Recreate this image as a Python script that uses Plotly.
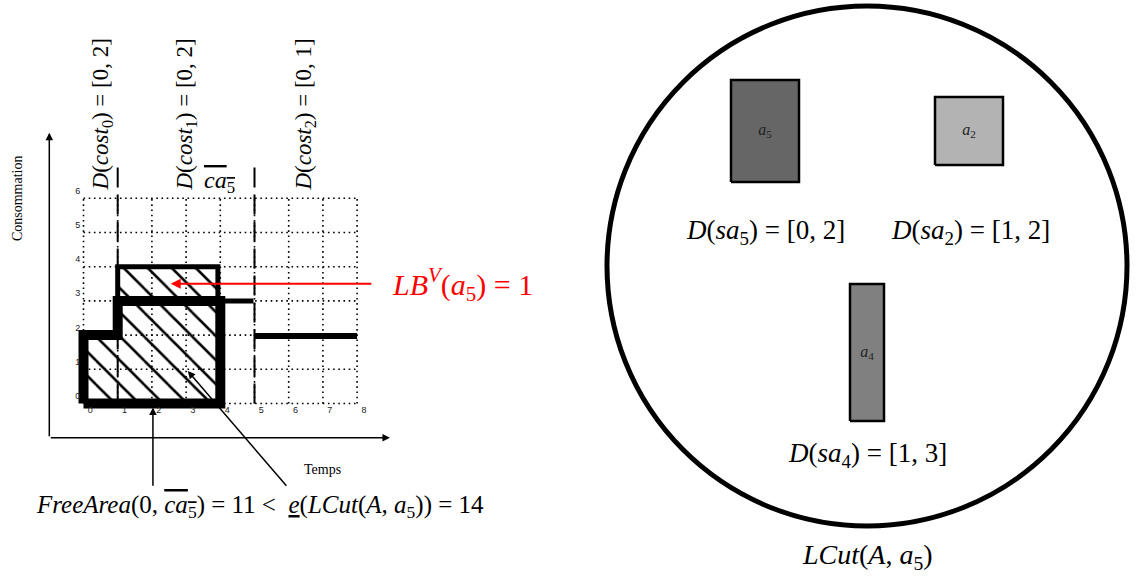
import plotly.graph_objects as go

# ---------------- left panel data (grid units: Temps x Consommation) ----------------
time_ticks = [0, 1, 2, 3, 4, 5, 6, 7, 8]
cons_ticks = [0, 1, 2, 3, 4, 5, 6]
tick_labels_x = [str(t) for t in time_ticks]
tick_labels_y = [str(c) for c in cons_ticks]

# resource profile (thick black outline) and its continuation
profile_x = [0, 0, 1, 1, 4, 4, 0]
profile_y = [0, 2, 2, 3, 3, 0, 0]
tail1_x = [4, 4.97]
tail1_y = [3, 3]
tail2_x = [5, 8]
tail2_y = [1.97, 1.97]

# hatched rectangle of ca5 above the profile
ca5_x = [1, 1, 3.93, 3.93, 1]
ca5_y = [3, 4, 4, 3, 3]

# dashed time cuts
cut_times = [1, 5]
cut_top = 7

EQ = "&nbsp;=&nbsp;"
cost_texts = ["<i>D</i>(<i>cost</i><sub>0</sub>)" + EQ + "[0, 2]",
              "<i>D</i>(<i>cost</i><sub>1</sub>)" + EQ + "[0, 2]",
              "<i>D</i>(<i>cost</i><sub>2</sub>)" + EQ + "[0, 1]"]

# ---------------- right panel data (pixel-like units around circle centre) ----------------
act_names = ["<i>a</i><sub>5</sub>", "<i>a</i><sub>2</sub>", "<i>a</i><sub>4</sub>"]
act_x0 = [-136, 68, -17]
act_x1 = [-68, 136, 17]
act_y0 = [84, 101, -155]
act_y1 = [186, 169, -18]
act_colors = ["#666666", "#b3b3b3", "#808080"]
dom_texts = ["<i>D</i>(<i>sa</i><sub>5</sub>)" + EQ + "[0, 2]",
             "<i>D</i>(<i>sa</i><sub>2</sub>)" + EQ + "[1, 2]",
             "<i>D</i>(<i>sa</i><sub>4</sub>)" + EQ + "[1, 3]"]

SERIF = "Liberation Serif"
SANS = "Liberation Sans"

fig = go.Figure()

# dotted grid
gx, gy = [], []
for t in time_ticks:
    gx += [t, t, None]
    gy += [cons_ticks[0], cons_ticks[-1], None]
for c in cons_ticks:
    gx += [time_ticks[0], time_ticks[-1], None]
    gy += [c, c, None]
fig.add_trace(go.Scatter(x=gx, y=gy, mode="lines",
                         line=dict(color="black", width=1.6, dash="1.6px,3.6px"),
                         hoverinfo="skip"))

hatch = dict(shape="\\", size=17, solidity=0.15, fgcolor="black",
             bgcolor="rgba(0,0,0,0)", fillmode="replace")

# hatched areas
fig.add_trace(go.Scatter(x=profile_x, y=profile_y, mode="lines", fill="toself",
                         fillcolor="rgba(0,0,0,0)", fillpattern=hatch,
                         line=dict(width=0), hoverinfo="skip"))
fig.add_trace(go.Scatter(x=ca5_x, y=ca5_y, mode="lines", fill="toself",
                         fillcolor="rgba(0,0,0,0)", fillpattern=hatch,
                         line=dict(width=0), hoverinfo="skip"))

# dashed cuts
for t in cut_times:
    fig.add_trace(go.Scatter(x=[t, t], y=[0, cut_top], mode="lines",
                             line=dict(color="black", width=2, dash="20px,7px"),
                             hoverinfo="skip"))

# outlines
fig.add_trace(go.Scatter(x=ca5_x, y=ca5_y, mode="lines",
                         line=dict(color="black", width=5), hoverinfo="skip"))
fig.add_trace(go.Scatter(x=profile_x, y=profile_y, mode="lines",
                         line=dict(color="black", width=10), hoverinfo="skip"))
fig.add_trace(go.Scatter(x=tail1_x, y=tail1_y, mode="lines",
                         line=dict(color="black", width=5), hoverinfo="skip"))
fig.add_trace(go.Scatter(x=tail2_x, y=tail2_y, mode="lines",
                         line=dict(color="black", width=6), hoverinfo="skip"))

# tick labels
fig.add_trace(go.Scatter(x=[t + 0.2 for t in time_ticks], y=[-0.22] * len(time_ticks),
                         mode="text", text=tick_labels_x,
                         textfont=dict(family=SANS, size=9, color="#222"), hoverinfo="skip"))
fig.add_trace(go.Scatter(x=[-0.17] * len(cons_ticks), y=[c + 0.2 for c in cons_ticks],
                         mode="text", text=tick_labels_y,
                         textfont=dict(family=SANS, size=9, color="#222"), hoverinfo="skip"))

# right panel rectangles
for i in range(3):
    fig.add_trace(go.Scatter(x=[act_x0[i], act_x0[i], act_x1[i], act_x1[i], act_x0[i]],
                             y=[act_y0[i], act_y1[i], act_y1[i], act_y0[i], act_y0[i]],
                             mode="lines", fill="toself", fillcolor=act_colors[i],
                             line=dict(color="black", width=2.5),
                             xaxis="x2", yaxis="y2", hoverinfo="skip"))
    fig.add_trace(go.Scatter(x=[(act_x0[i] + act_x1[i]) / 2], y=[(act_y0[i] + act_y1[i]) / 2],
                             mode="text", text=[act_names[i]],
                             textfont=dict(family=SERIF, size=16, color="#222"),
                             xaxis="x2", yaxis="y2", hoverinfo="skip"))

ARW = dict(xref="x", yref="y", axref="x", ayref="y", showarrow=True, arrowhead=2,
           arrowsize=1, arrowwidth=1.5, arrowcolor="black", text="")
ann = []
# axes arrows
ann.append(dict(ARW, x=-1, y=7.92, ax=-1, ay=-1))
ann.append(dict(ARW, x=8.96, y=-1, ax=-1, ay=-1))
# pointer arrows
ann.append(dict(ARW, x=2.03, y=-0.12, ax=2.03, ay=-2.45))
ann.append(dict(ARW, x=3.05, y=0.95, ax=5.97, ay=-2.45))
ann.append(dict(ARW, x=2.55, y=3.5, ax=8.46, ay=3.5, arrowwidth=2, arrowcolor="#ff0000"))

# texts left
ann.append(dict(x=8.96, y=3.48, xref="x", yref="y", showarrow=False, xanchor="left",
                text="<i>LB</i><sup><i>V</i></sup>(<i>a</i><sub>5</sub>)" + EQ + "1",
                font=dict(family=SERIF, size=30, color="#ff0000")))
for xpos, txt in zip([0.55, 3.01, 6.49], cost_texts):
    ann.append(dict(x=xpos, y=6.18, xref="x", yref="y", showarrow=False, textangle=-90,
                    yanchor="bottom", text=txt, font=dict(family=SERIF, size=23, color="black")))
ann.append(dict(x=3.99, y=6.48, xref="x", yref="y", showarrow=False,
                text="<i>ca</i><sub>5</sub>",
                font=dict(family=SERIF, size=24, color="black", lineposition="over")))
ann.append(dict(x=-1.95, y=6.0, xref="x", yref="y", showarrow=False, textangle=-90,
                text="Consommation", font=dict(family=SERIF, size=14, color="black")))
ann.append(dict(x=7.0, y=-1.94, xref="x", yref="y", showarrow=False,
                text="Temps", font=dict(family=SERIF, size=14, color="black")))
ann.append(dict(x=5.16, y=-3.0, xref="x", yref="y", showarrow=False,
                text="<i>FreeArea</i>(0, <span style='text-decoration:overline'><i>ca</i><sub>5</sub></span>)"
                     + EQ + "11&nbsp;&lt;&nbsp;&nbsp;"
                     "<span style='text-decoration:underline'><i>e</i></span>(<i>LCut</i>(<i>A</i>, <i>a</i><sub>5</sub>))"
                     + EQ + "14",
                font=dict(family=SERIF, size=25, color="black")))

# texts right
for xpos, ypos, txt in zip([-102, 103, 0], [34, 34, -189], dom_texts):
    ann.append(dict(x=xpos, y=ypos, xref="x2", yref="y2", showarrow=False,
                    text=txt, font=dict(family=SERIF, size=27, color="black")))
ann.append(dict(x=0, y=-290, xref="x2", yref="y2", showarrow=False,
                text="<i>LCut</i>(<i>A</i>, <i>a</i><sub>5</sub>)",
                font=dict(family=SERIF, size=28, color="black")))

fig.update_layout(
    template="none",
    width=1138, height=577, margin=dict(l=0, r=0, t=0, b=0),
    paper_bgcolor="white", plot_bgcolor="white", showlegend=False,
    xaxis=dict(range=[-2.4415, 30.833], visible=False, fixedrange=True),
    yaxis=dict(range=[-5.073, 11.798], visible=False, fixedrange=True),
    xaxis2=dict(range=[-867, 271], visible=False, overlaying="x", fixedrange=True),
    yaxis2=dict(range=[-311, 266], visible=False, overlaying="y", fixedrange=True),
    annotations=ann,
    shapes=[dict(type="circle", xref="x2", yref="y2", x0=-260, x1=260, y0=-260, y1=260,
                 line=dict(color="black", width=5))],
)

fig.write_html("out.html", config={"displayModeBar": False},
               post_script="document.body.style.margin='0';document.body.style.overflow='hidden';")
